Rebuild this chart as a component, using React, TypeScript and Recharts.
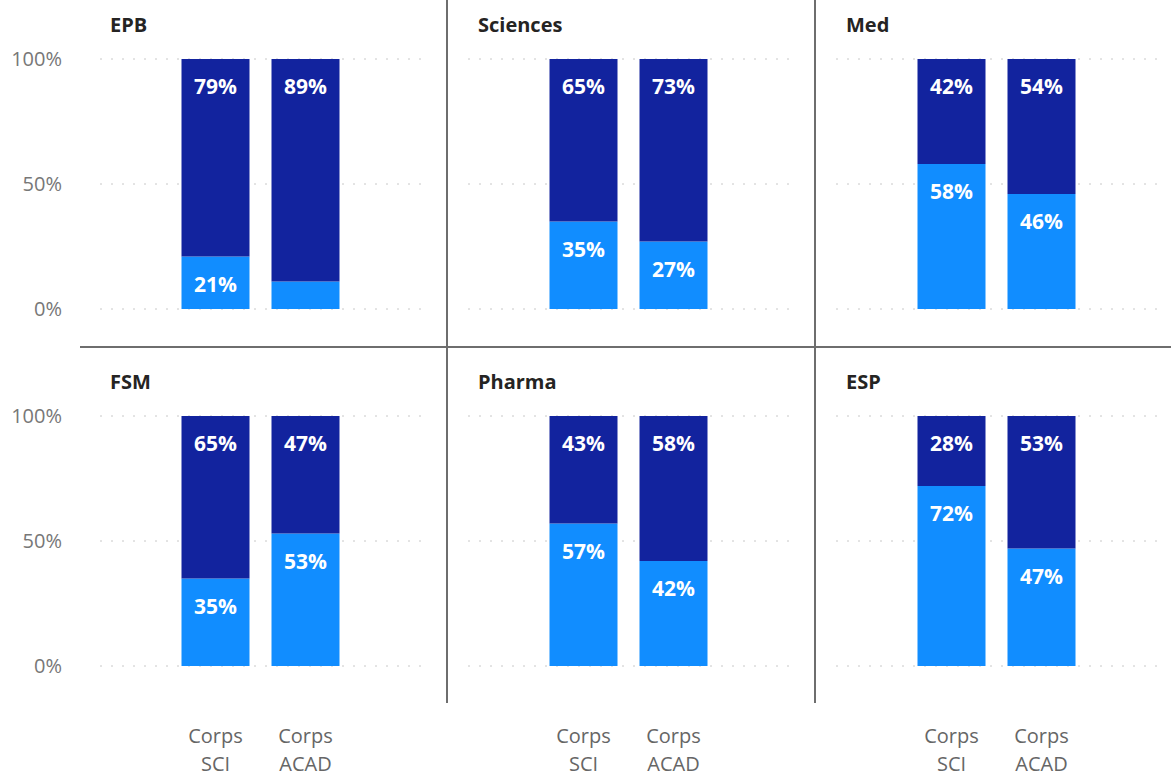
import React from 'react';
import { BarChart, Bar, XAxis, YAxis, CartesianGrid, LabelList } from 'recharts';

const categories = ['Corps SCI', 'Corps ACAD'];
const panelTitles = ['EPB', 'Sciences', 'Med', 'FSM', 'Pharma', 'ESP'];
// bottom segment (light blue), per panel: [SCI, ACAD]
const lightValues = [[21, 11], [35, 27], [58, 46], [35, 53], [57, 42], [72, 47]];
// top segment (dark blue), per panel: [SCI, ACAD]
const darkValues = [[79, 89], [65, 73], [42, 54], [65, 47], [43, 58], [28, 53]];
const yTicks = [0, 50, 100];

const LIGHT = '#118DFF';
const DARK = '#12239E';
const COL_W = 368;
const ROW_TOP = [0, 357];

// Power BI style label: hidden when the segment is too short
const SegmentLabel = (props: any) => {
    const { x, y, width, height, value } = props;
    if (height < 40) return null;
    return (
        <text
            x={x + width / 2}
            y={y + 27}
            textAnchor="middle"
            dominantBaseline="central"
            fill="#fff"
            fontSize={21}
            fontWeight={700}
        >
            {value}%
        </text>
    );
};

const CategoryTick = (props: any) => {
    const { x, y, payload } = props;
    const [first, second] = String(payload.value).split(' ');
    return (
        <text x={x} y={y} textAnchor="middle" fill="#666" fontSize={20}>
            <tspan x={x} dy={77}>{first}</tspan>
            <tspan x={x} dy={28}>{second}</tspan>
        </text>
    );
};

function Panel({ index }: { index: number }) {
    const col = index % 3;
    const row = Math.floor(index / 3);
    const bottomRow = row === 1;
    const data = categories.map((name, i) => ({
        name,
        light: lightValues[index][i],
        dark: darkValues[index][i],
    }));

    return (
        <div style={{ position: 'absolute', left: col * COL_W, top: ROW_TOP[row] }}>
            <div
                style={{
                    position: 'absolute',
                    left: 110,
                    top: 11,
                    fontSize: 20,
                    fontWeight: 700,
                    color: '#252423',
                    lineHeight: '28px',
                }}
            >
                {panelTitles[index]}
            </div>
            <BarChart
                width={440}
                height={bottomRow ? 419 : 330}
                data={data}
                margin={{ top: 59, right: 18, bottom: bottomRow ? 10 : 21, left: col === 0 ? 0 : 100 }}
                style={{ overflow: 'visible' }}
            >
                <CartesianGrid vertical={false} stroke="#c8c8c8" strokeDasharray="2 9" />
                <XAxis
                    dataKey="name"
                    hide={!bottomRow}
                    height={100}
                    axisLine={false}
                    tickLine={false}
                    tickSize={0}
                    tickMargin={0}
                    padding={{ left: 70.5, right: 71.5 }}
                    tick={<CategoryTick />}
                    interval={0}
                />
                <YAxis
                    hide={col !== 0}
                    width={100}
                    domain={[0, 100]}
                    ticks={yTicks}
                    interval={0}
                    axisLine={false}
                    tickLine={false}
                    tickSize={0}
                    tickMargin={38}
                    tickFormatter={(v: number) => `${v}%`}
                    tick={{ fill: '#777', fontSize: 20 }}
                />
                <Bar dataKey="light" stackId="s" fill={LIGHT} barSize={68} isAnimationActive={false}>
                    <LabelList dataKey="light" content={<SegmentLabel />} />
                </Bar>
                <Bar dataKey="dark" stackId="s" fill={DARK} barSize={68} isAnimationActive={false}>
                    <LabelList dataKey="dark" content={<SegmentLabel />} />
                </Bar>
            </BarChart>
        </div>
    );
}

export default function App() {
    return (
        <div
            style={{
                position: 'absolute',
                left: 0,
                top: 0,
                width: 1171,
                height: 776,
                background: '#fff',
                fontFamily: '"Open Sans", sans-serif',
                overflow: 'hidden',
            }}
        >
            {panelTitles.map((t, i) => (
                <Panel key={t} index={i} />
            ))}
            {/* small multiple separators */}
            <div style={{ position: 'absolute', left: 80, top: 346, width: 1091, height: 2, background: '#6e6e6e' }} />
            <div style={{ position: 'absolute', left: 446, top: 0, width: 2, height: 703, background: '#6e6e6e' }} />
            <div style={{ position: 'absolute', left: 814, top: 0, width: 2, height: 703, background: '#6e6e6e' }} />
        </div>
    );
}
